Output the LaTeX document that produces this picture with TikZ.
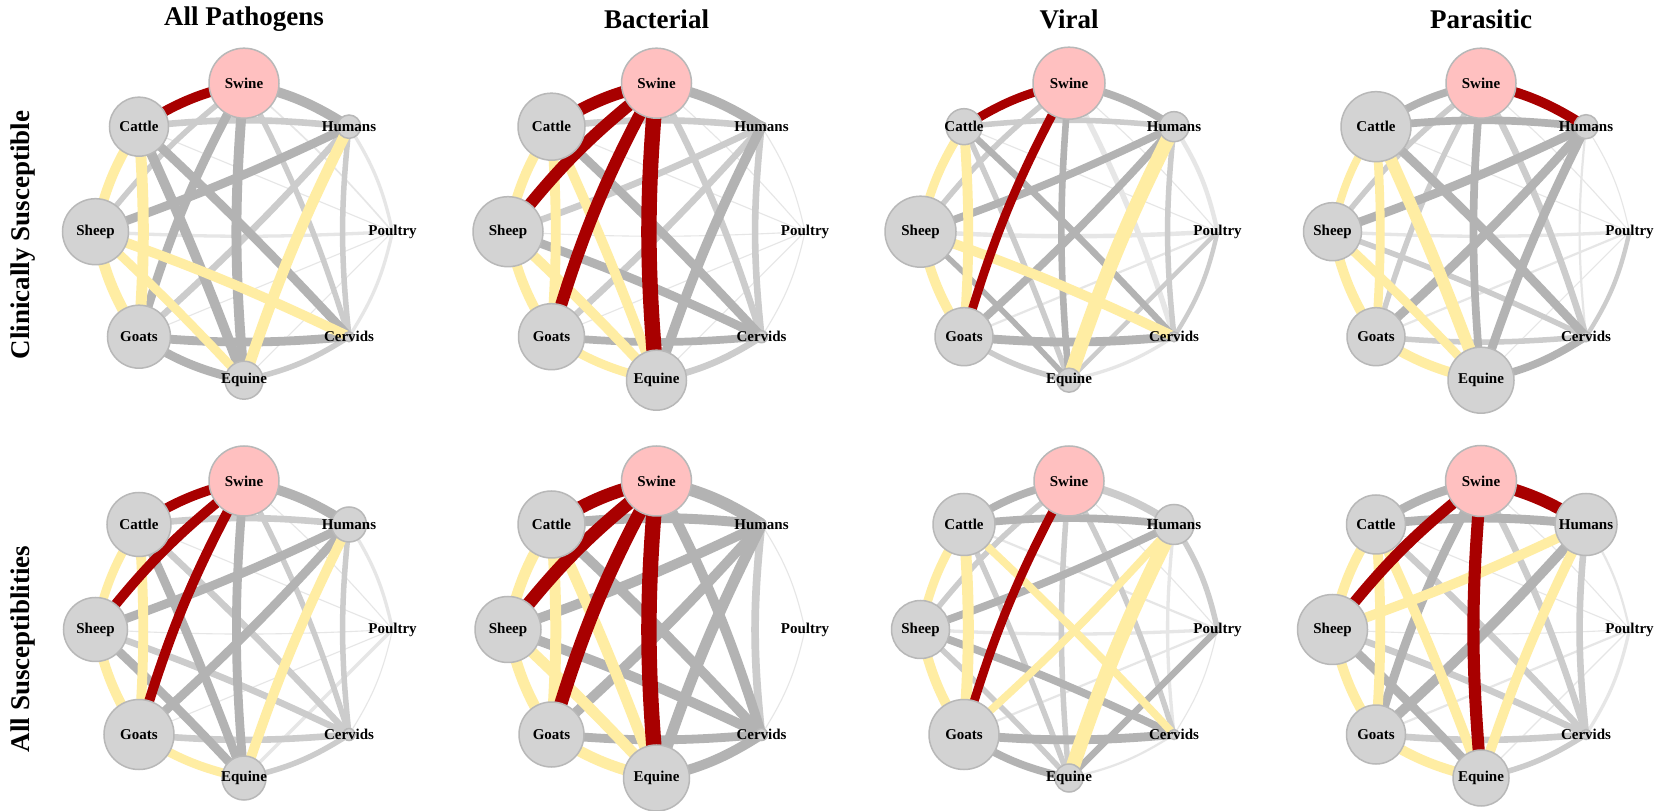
\documentclass[tikz,border=0pt]{standalone}
\usepackage{fontspec}
\setmainfont{Liberation Serif}
\definecolor{eR}{HTML}{A80000}
\definecolor{eY}{HTML}{FFEDA3}
\definecolor{eD}{HTML}{B3B3B3}
\definecolor{eL}{HTML}{CCCCCC}
\definecolor{eV}{HTML}{E6E6E6}
\definecolor{vfill}{HTML}{D3D3D3}
\definecolor{vline}{HTML}{B8B8B8}
\definecolor{vpink}{HTML}{FFC0C0}
\tikzset{
 cR/.style={draw=eR}, cY/.style={draw=eY}, cD/.style={draw=eD},
 cL/.style={draw=eL}, cV/.style={draw=eV},
 vtx/.style={circle, draw=vline, line width=1.5pt, fill=vfill, inner sep=0pt},
 lab/.style={font=\bfseries\fontsize{15}{15}\selectfont, inner sep=0pt, text=black},
 ttl/.style={font=\bfseries\fontsize{27}{30}\selectfont, inner sep=0pt}
}
\newcommand\setbend[3]{\expandafter\def\csname bd#1#2\endcsname{#3}}
\setbend{sw}{hu}{10}\setbend{hu}{po}{10}\setbend{po}{ce}{10}\setbend{ce}{eq}{10}
\setbend{eq}{go}{10}\setbend{go}{sh}{10}\setbend{sh}{ca}{10}\setbend{ca}{sw}{10}
\setbend{sw}{eq}{-5}\setbend{sw}{go}{-6}\setbend{sw}{sh}{-7}\setbend{sw}{ce}{5}\setbend{sw}{po}{4}
\setbend{go}{ca}{-4}\setbend{hu}{eq}{-4}\setbend{hu}{sh}{3}\setbend{hu}{go}{3}\setbend{sh}{ce}{3}
\setbend{ca}{hu}{6}\setbend{go}{ce}{-5}\setbend{hu}{ce}{-6}
\setbend{sh}{po}{-3}\setbend{po}{ca}{0}\setbend{po}{go}{0}\setbend{po}{eq}{0}
\setbend{ca}{ce}{2}\setbend{ca}{eq}{2}\setbend{sh}{eq}{2}
\newcommand\mkpos[3]{%
 \begin{scope}[shift={(#2pt,#3pt)}]
  \coordinate (#1sw) at (90:148.5pt);
  \coordinate (#1hu) at (45:148.5pt);
  \coordinate (#1po) at (0:148.5pt);
  \coordinate (#1ce) at (-45:148.5pt);
  \coordinate (#1eq) at (-90:148.5pt);
  \coordinate (#1go) at (-135:148.5pt);
  \coordinate (#1sh) at (180:148.5pt);
  \coordinate (#1ca) at (135:148.5pt);
 \end{scope}}
\newcommand\nd[5][vfill]{%
 \node[vtx, fill=#1, minimum size={2*#4pt}] (#2#3N) at (#2#3) {};
 \node[lab] (#2#3L) at (#2#3) {#5};}
\newcommand\allnodes[8]{%
 \nd[vpink]{#1}{sw}{#2}{Swine}
 \nd{#1}{hu}{#3}{Humans}
 \node[lab] (#1poL) at (#1po) {Poultry};
 \nd{#1}{ce}{#4}{Cervids}
 \nd{#1}{eq}{#5}{Equine}
 \nd{#1}{go}{#6}{Goats}
 \nd{#1}{sh}{#7}{Sheep}
 \nd{#1}{ca}{#8}{Cattle}}
\newcommand\eg[5]{\edef\tmpbend{\csname bd#2#3\endcsname}%
 \draw[line width={#4*1.1pt},#5] (#1#2) to[bend left=\tmpbend] (#1#3);}
\begin{document}
\begin{tikzpicture}[x=1pt,y=1pt]
\useasboundingbox[fill=white] (0,0) rectangle (1665,811);
\mkpos{p1}{244}{579.3}\mkpos{p2}{656.5}{579.3}\mkpos{p3}{1069}{579.3}\mkpos{p4}{1481}{579.3}
\mkpos{p5}{244}{181.5}\mkpos{p6}{656.5}{181.5}\mkpos{p7}{1069}{181.5}\mkpos{p8}{1481}{181.5}
% titles
\node[ttl] (t1) at (244,792) {All Pathogens};
\node[ttl] (t2) at (656.5,792) {Bacterial};
\node[ttl] (t3) at (1069,792) {Viral};
\node[ttl] (t4) at (1481,792) {Parasitic};
\node[ttl, rotate=90] (r1) at (23,576) {Clinically Susceptible};
\node[ttl, rotate=90] (r2) at (23,162) {All Susceptiblities};
% ---------- panel 1
\eg{p1}{hu}{po}{3}{cV}\eg{p1}{po}{ce}{3}{cV}\eg{p1}{po}{eq}{1}{cV}\eg{p1}{po}{go}{1}{cV}
\eg{p1}{sh}{po}{3}{cV}\eg{p1}{po}{ca}{1}{cV}\eg{p1}{sw}{po}{1.5}{cV}
\eg{p1}{sw}{ce}{5}{cL}\eg{p1}{sw}{sh}{5}{cL}\eg{p1}{hu}{ce}{5}{cL}\eg{p1}{hu}{go}{6}{cL}
\eg{p1}{ca}{hu}{6}{cL}\eg{p1}{ce}{eq}{5}{cL}
\eg{p1}{sw}{hu}{9}{cD}\eg{p1}{sw}{eq}{9}{cD}\eg{p1}{sw}{go}{8}{cD}\eg{p1}{hu}{sh}{8}{cD}
\eg{p1}{ca}{ce}{8}{cD}\eg{p1}{ca}{eq}{9}{cD}\eg{p1}{go}{ce}{8}{cD}\eg{p1}{eq}{go}{8}{cD}
\eg{p1}{hu}{eq}{10}{cY}\eg{p1}{sh}{ce}{9}{cY}\eg{p1}{sh}{eq}{8}{cY}\eg{p1}{go}{sh}{10}{cY}
\eg{p1}{go}{ca}{10}{cY}\eg{p1}{sh}{ca}{9}{cY}
\eg{p1}{ca}{sw}{9}{cR}
% ---------- panel 2
\eg{p2}{hu}{po}{1}{cV}\eg{p2}{po}{ce}{1}{cV}\eg{p2}{sh}{po}{1}{cV}\eg{p2}{po}{go}{1}{cV}
\eg{p2}{po}{ca}{1}{cV}\eg{p2}{po}{eq}{1}{cV}\eg{p2}{sw}{po}{1}{cV}
\eg{p2}{sw}{ce}{6}{cL}\eg{p2}{ca}{hu}{6}{cL}\eg{p2}{hu}{sh}{6}{cL}\eg{p2}{hu}{go}{6}{cL}
\eg{p2}{hu}{ce}{6}{cL}\eg{p2}{ce}{eq}{6}{cL}
\eg{p2}{sw}{hu}{9}{cD}\eg{p2}{hu}{eq}{9}{cD}\eg{p2}{ca}{ce}{8}{cD}\eg{p2}{sh}{ce}{8}{cD}
\eg{p2}{go}{ce}{7}{cD}
\eg{p2}{eq}{go}{8}{cY}\eg{p2}{sh}{eq}{9}{cY}\eg{p2}{ca}{eq}{9}{cY}\eg{p2}{go}{sh}{9}{cY}
\eg{p2}{go}{ca}{9}{cY}\eg{p2}{sh}{ca}{9}{cY}
\eg{p2}{ca}{sw}{11}{cR}\eg{p2}{sw}{sh}{11}{cR}\eg{p2}{sw}{go}{11}{cR}\eg{p2}{sw}{eq}{14}{cR}
% ---------- panel 3
\eg{p3}{sw}{ce}{5}{cV}\eg{p3}{sw}{po}{1}{cV}\eg{p3}{hu}{po}{4}{cV}\eg{p3}{sh}{po}{4}{cV}
\eg{p3}{po}{go}{2}{cV}\eg{p3}{po}{ca}{1}{cV}\eg{p3}{ce}{eq}{3}{cV}
\eg{p3}{sw}{sh}{5}{cL}\eg{p3}{ca}{hu}{5}{cL}\eg{p3}{hu}{ce}{5}{cL}\eg{p3}{po}{ce}{4}{cL}
\eg{p3}{po}{eq}{4}{cL}\eg{p3}{eq}{go}{5}{cL}\eg{p3}{ca}{eq}{5}{cL}
\eg{p3}{sw}{hu}{7}{cD}\eg{p3}{sw}{eq}{6}{cD}\eg{p3}{hu}{sh}{7}{cD}\eg{p3}{hu}{go}{7}{cD}
\eg{p3}{ca}{ce}{6}{cD}\eg{p3}{go}{ce}{8}{cD}\eg{p3}{sh}{eq}{5}{cD}
\eg{p3}{hu}{eq}{13}{cY}\eg{p3}{sh}{ce}{9}{cY}\eg{p3}{go}{sh}{9}{cY}\eg{p3}{go}{ca}{9}{cY}
\eg{p3}{sh}{ca}{8}{cY}
\eg{p3}{ca}{sw}{8}{cR}\eg{p3}{sw}{go}{8}{cR}
% ---------- panel 4
\eg{p4}{sw}{po}{1}{cV}\eg{p4}{hu}{ce}{2}{cV}\eg{p4}{hu}{po}{1}{cV}\eg{p4}{po}{eq}{1}{cV}
\eg{p4}{po}{go}{2}{cV}\eg{p4}{sh}{po}{3}{cV}\eg{p4}{po}{ca}{1}{cV}
\eg{p4}{sw}{sh}{5}{cL}\eg{p4}{sw}{go}{5}{cL}\eg{p4}{sw}{ce}{6}{cL}\eg{p4}{po}{ce}{4}{cL}
\eg{p4}{sh}{ce}{5}{cL}\eg{p4}{go}{ce}{5}{cL}
\eg{p4}{ca}{sw}{7}{cD}\eg{p4}{sw}{eq}{7}{cD}\eg{p4}{ca}{hu}{7}{cD}\eg{p4}{hu}{sh}{8}{cD}
\eg{p4}{hu}{go}{8}{cD}\eg{p4}{hu}{eq}{8}{cD}\eg{p4}{ca}{ce}{8}{cD}\eg{p4}{ce}{eq}{7}{cD}
\eg{p4}{eq}{go}{9}{cY}\eg{p4}{sh}{eq}{8}{cY}\eg{p4}{ca}{eq}{11}{cY}\eg{p4}{go}{sh}{9}{cY}
\eg{p4}{go}{ca}{8}{cY}\eg{p4}{sh}{ca}{7}{cY}
\eg{p4}{sw}{hu}{9}{cR}
% ---------- panel 5
\eg{p5}{sw}{po}{1}{cV}\eg{p5}{hu}{po}{3}{cV}\eg{p5}{po}{ce}{1}{cV}\eg{p5}{po}{eq}{3}{cV}
\eg{p5}{po}{go}{1}{cV}\eg{p5}{sh}{po}{1}{cV}\eg{p5}{po}{ca}{1}{cV}
\eg{p5}{sw}{ce}{5}{cL}\eg{p5}{ca}{hu}{6}{cL}\eg{p5}{hu}{ce}{5}{cL}\eg{p5}{ca}{ce}{6}{cL}
\eg{p5}{sh}{ce}{6}{cL}\eg{p5}{go}{ce}{6}{cL}\eg{p5}{ce}{eq}{5}{cL}
\eg{p5}{sw}{hu}{9}{cD}\eg{p5}{sw}{eq}{8}{cD}\eg{p5}{hu}{sh}{8}{cD}\eg{p5}{hu}{go}{8}{cD}
\eg{p5}{sh}{eq}{8}{cD}\eg{p5}{ca}{eq}{8}{cD}
\eg{p5}{hu}{eq}{9}{cY}\eg{p5}{eq}{go}{8}{cY}\eg{p5}{go}{sh}{9}{cY}\eg{p5}{go}{ca}{9}{cY}
\eg{p5}{sh}{ca}{8}{cY}
\eg{p5}{ca}{sw}{9}{cR}\eg{p5}{sw}{sh}{9}{cR}\eg{p5}{sw}{go}{9}{cR}
% ---------- panel 6
\eg{p6}{hu}{po}{1}{cV}\eg{p6}{po}{ce}{1}{cV}
\eg{p6}{hu}{ce}{7}{cL}
\eg{p6}{sw}{hu}{11}{cD}\eg{p6}{sw}{ce}{9}{cD}\eg{p6}{ca}{hu}{9}{cD}\eg{p6}{hu}{sh}{9}{cD}
\eg{p6}{hu}{go}{9}{cD}\eg{p6}{hu}{eq}{10}{cD}\eg{p6}{ca}{ce}{9}{cD}\eg{p6}{sh}{ce}{9}{cD}
\eg{p6}{go}{ce}{8}{cD}\eg{p6}{ce}{eq}{9}{cD}
\eg{p6}{eq}{go}{10}{cY}\eg{p6}{sh}{eq}{10}{cY}\eg{p6}{ca}{eq}{10}{cY}\eg{p6}{go}{sh}{10}{cY}
\eg{p6}{go}{ca}{10}{cY}\eg{p6}{sh}{ca}{10}{cY}
\eg{p6}{ca}{sw}{12}{cR}\eg{p6}{sw}{sh}{12}{cR}\eg{p6}{sw}{go}{12}{cR}\eg{p6}{sw}{eq}{14}{cR}
% ---------- panel 7
\eg{p7}{sw}{po}{1}{cV}\eg{p7}{hu}{ce}{3}{cV}\eg{p7}{po}{ce}{1}{cV}\eg{p7}{po}{go}{2}{cV}
\eg{p7}{sh}{po}{3}{cV}\eg{p7}{po}{ca}{2}{cV}\eg{p7}{ce}{eq}{2}{cV}
\eg{p7}{sw}{hu}{7}{cL}\eg{p7}{sw}{eq}{5}{cL}\eg{p7}{sw}{sh}{5}{cL}\eg{p7}{sw}{ce}{5}{cL}
\eg{p7}{hu}{po}{5}{cL}\eg{p7}{sh}{eq}{5}{cL}\eg{p7}{ca}{eq}{5}{cL}
\eg{p7}{ca}{sw}{7}{cD}\eg{p7}{ca}{hu}{7}{cD}\eg{p7}{hu}{sh}{7}{cD}\eg{p7}{po}{eq}{6}{cD}
\eg{p7}{sh}{ce}{7}{cD}\eg{p7}{go}{ce}{8}{cD}\eg{p7}{eq}{go}{7}{cD}
\eg{p7}{hu}{go}{7}{cY}\eg{p7}{hu}{eq}{13}{cY}\eg{p7}{ca}{ce}{7}{cY}\eg{p7}{go}{sh}{9}{cY}
\eg{p7}{go}{ca}{10}{cY}\eg{p7}{sh}{ca}{8}{cY}
\eg{p7}{sw}{go}{8}{cR}
% ---------- panel 8
\eg{p8}{sw}{po}{1}{cV}\eg{p8}{hu}{po}{2}{cV}\eg{p8}{po}{ce}{3}{cV}\eg{p8}{po}{eq}{1}{cV}
\eg{p8}{po}{go}{2}{cV}\eg{p8}{sh}{po}{1}{cV}\eg{p8}{po}{ca}{1}{cV}
\eg{p8}{sw}{ce}{6}{cL}\eg{p8}{hu}{ce}{6}{cL}\eg{p8}{ca}{ce}{6}{cL}\eg{p8}{sh}{ce}{6}{cL}
\eg{p8}{go}{ce}{6}{cL}\eg{p8}{ce}{eq}{5}{cL}
\eg{p8}{ca}{sw}{8}{cD}\eg{p8}{sw}{go}{8}{cD}\eg{p8}{ca}{hu}{8}{cD}\eg{p8}{hu}{go}{9}{cD}
\eg{p8}{sh}{eq}{8}{cD}
\eg{p8}{hu}{sh}{9}{cY}\eg{p8}{hu}{eq}{9}{cY}\eg{p8}{eq}{go}{9}{cY}\eg{p8}{ca}{eq}{9}{cY}
\eg{p8}{go}{sh}{9}{cY}\eg{p8}{go}{ca}{9}{cY}\eg{p8}{sh}{ca}{9}{cY}
\eg{p8}{sw}{hu}{11}{cR}\eg{p8}{sw}{sh}{10}{cR}\eg{p8}{sw}{eq}{11}{cR}
% ---------- nodes: prefix, sw, hu, ce, eq, go, sh, ca
\allnodes{p1}{35}{11.7}{5}{19}{31.5}{33}{29.5}
\allnodes{p2}{35}{5}{6}{30}{33}{35}{33.5}
\allnodes{p3}{36}{15}{5}{12}{29}{35.5}{18}
\allnodes{p4}{35}{12}{5}{33}{29}{29}{35}
\allnodes{p5}{35}{17.5}{6}{22}{35}{32}{32}
\allnodes{p6}{35}{5}{6}{33}{32.5}{33}{33.5}
\allnodes{p7}{35}{20}{5}{14}{35}{29}{31}
\allnodes{p8}{35.5}{31}{5}{28}{29.5}{35}{29.5}
\end{tikzpicture}
\end{document}
